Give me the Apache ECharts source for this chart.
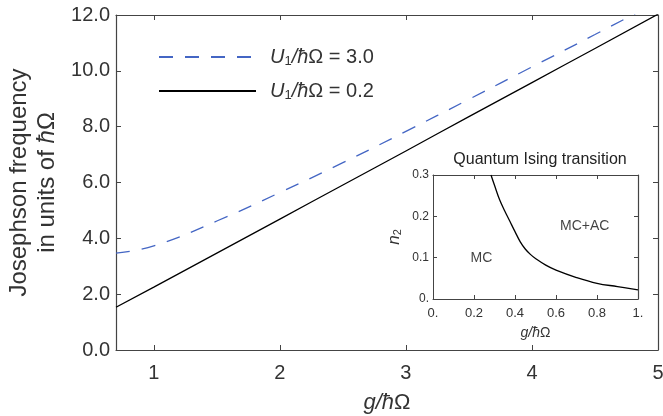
<!DOCTYPE html>
<html>
<head>
<meta charset="utf-8">
<script src="https://cdn.jsdelivr.net/npm/echarts@6/dist/echarts.min.js"></script>
<style>
  html, body { margin: 0; padding: 0; background: #fff; }
  #main { width: 663px; height: 416px; }
</style>
</head>
<body>
<div id="main"></div>
<script>
// main panel: Josephson frequency vs g
const gValues = [0.7, 1.0, 1.5, 2.0, 2.5, 3.0, 3.5, 4.0, 4.5, 5.0]
const freqU30 = [3.47, 3.73, 4.62, 5.64, 6.71, 7.83, 8.98, 10.14, 11.3, 12.48]
const freqU02 = [1.53, 2.25, 3.47, 4.69, 5.91, 7.13, 8.36, 9.58, 10.8, 12.03]
const xTicks = [1, 2, 3, 4, 5]

// inset: quantum Ising transition line
const insetG = [0.283, 0.3, 0.325, 0.35, 0.375, 0.4, 0.425, 0.45, 0.475, 0.5, 0.55, 0.6, 0.7, 0.8, 0.9, 1.0]
const insetN2 = [0.3, 0.275, 0.24, 0.213, 0.188, 0.163, 0.139, 0.121, 0.108, 0.098, 0.082, 0.07, 0.052, 0.038, 0.03, 0.022]
const regionLabels = [
  { name: 'MC', value: [0.236, 0.098] },
  { name: 'MC+AC', value: [0.74, 0.177] }
]

const font = 'Liberation Sans, Arial, sans-serif'
const axisColor = '#444'
const textColor = '#333'

const chart = echarts.init(document.getElementById('main'))

const legendRich = {
  u: { fontFamily: font, fontSize: 20, fontStyle: 'italic', color: textColor, padding: [0, 0, 0, 9] },
  s: { fontFamily: font, fontSize: 13, color: textColor, padding: [9, 0, 0, 0] },
  i: { fontFamily: font, fontSize: 20, fontStyle: 'italic', color: textColor },
  n: { fontFamily: font, fontSize: 20, color: textColor }
}

function mirrorAxis (gridIndex, position, min, max, ticks, len) {
  return {
    type: 'value', gridIndex: gridIndex, position: position, min: min, max: max,
    axisLine: { show: true, onZero: false, lineStyle: { color: axisColor, width: 1.2 } },
    axisTick: { show: true, inside: true, length: len, customValues: ticks, lineStyle: { color: axisColor } },
    axisLabel: { show: false },
    splitLine: { show: false }
  }
}

const option = {
  animation: false,
  title: {
    text: 'Quantum Ising transition',
    left: 535,
    top: 147,
    textAlign: 'center',
    textStyle: { fontFamily: font, fontSize: 16, fontWeight: 'normal', color: '#222' }
  },
  legend: {
    orient: 'vertical',
    left: 153,
    top: 42,
    itemWidth: 97,
    itemHeight: 14,
    itemGap: 13,
    data: ['u30', 'u02'],
    itemStyle: { color: 'rgba(0,0,0,0)', borderWidth: 0, opacity: 0 },
    formatter: function (name) {
      const val = name === 'u30' ? '3.0' : '0.2'
      return '{u|U}{s|1}{i|/ħ}{n|Ω = ' + val + '}'
    },
    textStyle: { rich: legendRich }
  },
  grid: [
    { left: 116, right: 5, top: 15, bottom: 66, outerBoundsMode: 'none' },
    { left: 433, right: 25, top: 175, bottom: 117, outerBoundsMode: 'none' }
  ],
  xAxis: [
    {
      type: 'value', gridIndex: 0, min: 0.7, max: 5,
      name: '{i|g/ħ}{a|Ω}', nameLocation: 'middle', nameGap: 42,
      nameTextStyle: {
        rich: {
          i: { fontFamily: font, fontSize: 22, fontStyle: 'italic', color: textColor },
          a: { fontFamily: font, fontSize: 22, color: textColor }
        }
      },
      axisLine: { onZero: false, lineStyle: { color: axisColor, width: 1.2 } },
      axisTick: { inside: true, length: 5, customValues: xTicks, lineStyle: { color: axisColor } },
      axisLabel: { customValues: xTicks, margin: 13, fontFamily: font, fontSize: 20, color: textColor },
      splitLine: { show: false }
    },
    mirrorAxis(0, 'top', 0.7, 5, xTicks, 5),
    {
      type: 'value', gridIndex: 1, min: 0, max: 1, interval: 0.2,
      name: '{i|g/ħ}{a|Ω}', nameLocation: 'middle', nameGap: 27,
      nameTextStyle: {
        rich: {
          i: { fontFamily: font, fontSize: 14, fontStyle: 'italic', color: textColor },
          a: { fontFamily: font, fontSize: 14, color: textColor }
        }
      },
      axisLine: { onZero: false, lineStyle: { color: axisColor } },
      axisTick: { inside: true, length: 4, lineStyle: { color: axisColor } },
      axisLabel: {
        margin: 8, fontFamily: font, fontSize: 13, color: textColor,
        formatter: function (v) { return v === 0 ? '0.' : v === 1 ? '1.' : v.toFixed(1) }
      },
      splitLine: { show: false }
    },
    mirrorAxis(1, 'top', 0, 1, [0.2, 0.4, 0.6, 0.8], 4)
  ],
  yAxis: [
    {
      type: 'value', gridIndex: 0, min: 0, max: 12, interval: 2,
      name: '{a|Josephson frequency}\n{a|in units of }{i|ħ}{a|Ω}',
      nameLocation: 'middle', nameGap: 55, nameRotate: 90,
      nameTextStyle: {
        align: 'center',
        rich: {
          a: { fontFamily: font, fontSize: 24, color: textColor, lineHeight: 28 },
          i: { fontFamily: font, fontSize: 24, fontStyle: 'italic', color: textColor, lineHeight: 28 }
        }
      },
      axisLine: { show: true, onZero: false, lineStyle: { color: axisColor, width: 1.2 } },
      axisTick: { show: true, inside: true, length: 5, lineStyle: { color: axisColor } },
      axisLabel: {
        margin: 6, fontFamily: font, fontSize: 20, color: textColor,
        formatter: function (v) { return v.toFixed(1) }
      },
      splitLine: { show: false }
    },
    mirrorAxis(0, 'right', 0, 12, [2, 4, 6, 8, 10], 5),
    {
      type: 'value', gridIndex: 1, min: 0, max: 0.3, interval: 0.1,
      name: '{i|n}{s|2}', nameLocation: 'middle', nameGap: 30, nameRotate: 90,
      nameTextStyle: {
        rich: {
          i: { fontFamily: font, fontSize: 17, fontStyle: 'italic', color: textColor },
          s: { fontFamily: font, fontSize: 11, color: textColor, padding: [7, 0, 0, 0] }
        }
      },
      axisLine: { show: true, onZero: false, lineStyle: { color: axisColor } },
      axisTick: { show: true, inside: true, length: 4, lineStyle: { color: axisColor } },
      axisLabel: {
        margin: 4, fontFamily: font, fontSize: 12, color: textColor,
        formatter: function (v) { return v === 0 ? '0.' : v.toFixed(1) }
      },
      splitLine: { show: false }
    },
    mirrorAxis(1, 'right', 0, 0.3, [0.1, 0.2], 4)
  ],
  series: [
    {
      name: 'u30', type: 'line', xAxisIndex: 0, yAxisIndex: 0,
      data: gValues.map((g, i) => [g, freqU30[i]]),
      smooth: true, symbol: 'none',
      lineStyle: { color: '#4466c4', width: 1.3, type: [14, 12] },
      itemStyle: { color: '#4466c4' }
    },
    {
      name: 'u02', type: 'line', xAxisIndex: 0, yAxisIndex: 0,
      data: gValues.map((g, i) => [g, freqU02[i]]),
      smooth: true, symbol: 'none',
      lineStyle: { color: '#000', width: 1.3 },
      itemStyle: { color: '#000' }
    },
    {
      name: 'ising', type: 'line', xAxisIndex: 2, yAxisIndex: 2,
      data: insetG.map((g, i) => [g, insetN2[i]]),
      smooth: 0.4, symbol: 'none',
      lineStyle: { color: '#000', width: 1.3 }
    },
    {
      name: 'regions', type: 'scatter', xAxisIndex: 2, yAxisIndex: 2,
      data: regionLabels, symbolSize: 0,
      label: {
        show: true, position: 'inside', formatter: '{b}',
        fontFamily: font, fontSize: 14, color: '#111'
      }
    }
  ]
}

chart.setOption(option)
window.addEventListener('resize', () => {
  chart.resize()
})
</script>
</body>
</html>
